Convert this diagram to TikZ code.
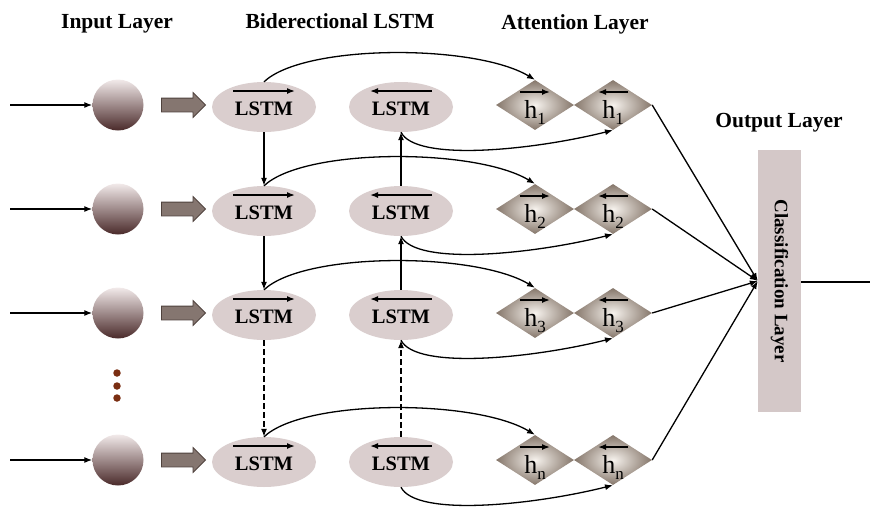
\documentclass[tikz,border=0pt]{standalone}
\usepackage{fontspec}
\setmainfont{Liberation Serif}
\usetikzlibrary{shapes.geometric,shapes.arrows,arrows.meta,calc}
\definecolor{lstmfill}{HTML}{DACECE}
\definecolor{clsfill}{HTML}{D4C8C8}
\definecolor{circtop}{HTML}{F2EAEA}
\definecolor{circbot}{HTML}{4A2A2A}
\definecolor{diain}{HTML}{F7F3EE}
\definecolor{diaout}{HTML}{85766A}
\definecolor{thickfill}{HTML}{857670}
\definecolor{thickdraw}{HTML}{4F423D}
\definecolor{dotcol}{HTML}{7A2E12}
\begin{document}
\begin{tikzpicture}[x=1pt,y=-1pt,
  lstm/.style={ellipse, fill=lstmfill, minimum width=104pt, minimum height=50pt, inner sep=0pt, text height=17pt, text depth=0pt, font=\fontsize{20.5}{20.5}\selectfont\bfseries},
  inp/.style={circle, minimum size=51pt, inner sep=0pt, top color=circtop, bottom color=circbot},
  att/.style={diamond, minimum width=78pt, minimum height=50pt, inner sep=0pt, shading=radial, inner color=diain, outer color=diaout},
  thick arrow/.style={single arrow, minimum height=44pt, inner sep=6.5pt, single arrow head extend=5.5pt, fill=thickfill, draw=thickdraw, line width=0.8pt},
  head/.style={anchor=base, font=\fontsize{21.5}{21.5}\selectfont\bfseries},
  hlab/.style={anchor=base, inner sep=0pt, font=\fontsize{26}{26}\selectfont},
  arr/.style={-{Latex[length=8pt,width=6pt]}, line width=1.3pt},
  dirarr/.style={-{Latex[length=8pt,width=6pt]}, line width=1.5pt},
  conn/.style={line width=1.3pt},
  dotn/.style={circle, fill=dotcol, minimum size=7.5pt, inner sep=0pt}
]
\useasboundingbox (0,0) rectangle (870,512);

% headers
\node[head] (hin) at (117,28) {Input Layer};
\node[head] (hbi) at (340,28) {Biderectional LSTM};
\node[head] (hat) at (575,29) {Attention Layer};
\node[head] (hout) at (779,127) {Output Layer};

% classification layer
\node[fill=clsfill, minimum width=43pt, minimum height=262pt, inner sep=0pt] (cls) at (779.5,281) {};
\node[rotate=-90, font=\fontsize{19}{19}\selectfont\bfseries] (clst) at (cls.center) {Classification Layer};
\coordinate (out) at (870,282);
\draw[conn] (cls.east |- out) -- (out);

% rows
\foreach \i/\y in {1/105,2/209,3/313,n/460}{
  \coordinate (s\i) at (10,\y);
  \node[inp] (c\i) at (118,\y) {};
  \node[thick arrow] (t\i) at (180,\y) {};
  \node[lstm] (f\i) at (264,\y+2) {LSTM};
  \node[lstm] (b\i) at (401,\y+2) {LSTM};
  \node[att] (df\i) at (535,\y) {};
  \node[att] (db\i) at (613,\y) {};
  \draw[arr] (s\i) -- (c\i.west);
  \draw[dirarr] ($(f\i.center)+(-31,-16)$) -- ++(62,0);
  \draw[dirarr] ($(b\i.center)+(31,-16)$) -- ++(-62,0);
  \node[hlab] (hf\i) at ($(df\i.center)+(0,13)$) {h\raisebox{-6pt}{\fontsize{17}{17}\selectfont \i}};
  \node[hlab] (hb\i) at ($(db\i.center)+(0,13)$) {h\raisebox{-6pt}{\fontsize{17}{17}\selectfont \i}};
  \draw[dirarr] ($(df\i.center)+(-15,-13)$) -- ++(30,0);
  \draw[dirarr] ($(db\i.center)+(15,-13)$) -- ++(-30,0);
  \draw[arr] (f\i.north) .. controls +(40,-38) and +(-60,-36) .. (df\i.north);
  \draw[arr] (b\i.south) .. controls +(15,30) and +(-80,20) .. (db\i.south);
  \draw[arr] (db\i.east) -- (cls.west);
}

% dots
\node[dotn] (d1) at (117,373) {};
\node[dotn] (d2) at (117,386) {};
\node[dotn] (d3) at (117,398) {};

% vertical chains
\draw[arr] (f1.south) -- (f2.north);
\draw[arr] (f2.south) -- (f3.north);
\draw[arr, dash pattern=on 6pt off 3pt] (f3.south) -- (fn.north);
\draw[arr] (b2.north) -- (b1.south);
\draw[arr] (b3.north) -- (b2.south);
\draw[arr, dash pattern=on 6pt off 3pt] (bn.north) -- (b3.south);
\end{tikzpicture}
\end{document}
